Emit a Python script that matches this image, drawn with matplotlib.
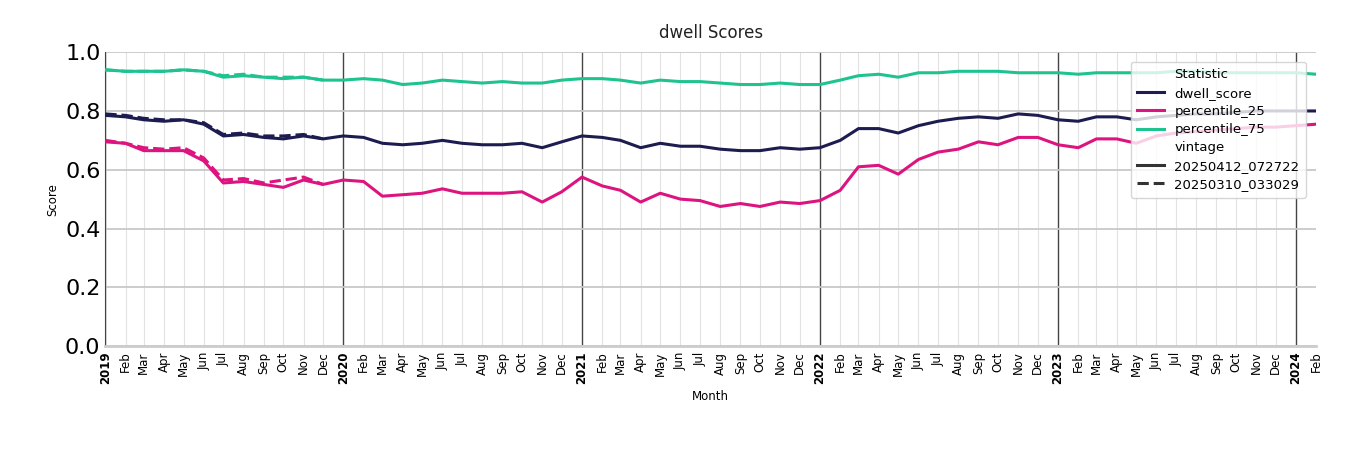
import matplotlib
matplotlib.use("Agg")
import matplotlib.pyplot as plt
from matplotlib.lines import Line2D
import pandas as pd

months = pd.date_range("2019-01-01", "2024-02-01", freq="MS")

dwell_score = [.785, .78, .77, .765, .77, .755, .715, .72, .71, .705, .715, .705,
               .715, .71, .69, .685, .69, .70, .69, .685, .685, .69, .675, .695,
               .715, .71, .70, .675, .69, .68, .68, .67, .665, .665, .675, .67,
               .675, .70, .74, .74, .725, .75, .765, .775, .78, .775, .79, .785,
               .77, .765, .78, .78, .77, .78, .785, .79, .79, .795, .80, .80,
               .80, .80]
percentile_25 = [.695, .69, .665, .665, .665, .63, .555, .56, .55, .54, .565, .55,
                 .565, .56, .51, .515, .52, .535, .52, .52, .52, .525, .49, .525,
                 .575, .545, .53, .49, .52, .50, .495, .475, .485, .475, .49, .485,
                 .495, .53, .61, .615, .585, .635, .66, .67, .695, .685, .71, .71,
                 .685, .675, .705, .705, .69, .715, .725, .73, .735, .74, .745, .745,
                 .75, .755]
percentile_75 = [.94, .935, .935, .935, .94, .935, .915, .92, .915, .91, .915, .905,
                 .905, .91, .905, .89, .895, .905, .90, .895, .90, .895, .895, .905,
                 .91, .91, .905, .895, .905, .90, .90, .895, .89, .89, .895, .89,
                 .89, .905, .92, .925, .915, .93, .93, .935, .935, .935, .93, .93,
                 .93, .925, .93, .93, .93, .93, .935, .935, .93, .93, .93, .93,
                 .93, .925]

# older vintage only covers 2019
old_months = pd.date_range("2019-01-01", "2019-12-01", freq="MS")
old_dwell = [.79, .785, .775, .77, .77, .76, .72, .725, .715, .715, .72, .705]
old_p25 = [.70, .69, .675, .67, .675, .64, .565, .57, .555, .565, .575, .55]
old_p75 = [.94, .935, .935, .935, .94, .935, .92, .925, .915, .915, .915, .905]

colors = {"dwell_score": "#1c1c50", "percentile_25": "#dd1480",
          "percentile_75": "#1fc38f"}

fig = plt.figure(figsize=(13.5, 4.5), dpi=100)
ax = fig.add_axes([0.078, 0.231, 0.897, 0.653])

for name, vals, old in [("dwell_score", dwell_score, old_dwell),
                        ("percentile_25", percentile_25, old_p25),
                        ("percentile_75", percentile_75, old_p75)]:
    ax.plot(months, vals, color=colors[name], lw=2.2, zorder=3)
    ax.plot(old_months, old, color=colors[name], lw=2.2, ls="--", zorder=3)

ax.set_ylim(0, 1)
ax.set_xlim(months[0], months[-1])
ax.set_yticks([0, 0.2, 0.4, 0.6, 0.8, 1.0])
ax.tick_params(axis="y", labelsize=16, length=0)
ax.grid(axis="y", color="#c8c8c8", lw=1.3)

# month grid + year lines
for m in months:
    if m.month == 1:
        ax.axvline(m, color="#444444", lw=1, zorder=1)
    else:
        ax.axvline(m, color="#e2e2e2", lw=0.8, zorder=1)

ax.set_xticks(months)
labels = [str(m.year) if m.month == 1 else m.strftime("%b") for m in months]
ax.set_xticklabels(labels, rotation=90, fontsize=8.5)
for lab, m in zip(ax.get_xticklabels(), months):
    if m.month == 1:
        lab.set_fontweight("bold")
ax.tick_params(axis="x", length=0, pad=4)

for s in ["top", "right"]:
    ax.spines[s].set_visible(False)
ax.spines["left"].set_color("#444444")
ax.spines["bottom"].set_color("#cccccc")
ax.spines["bottom"].set_linewidth(2)

ax.set_title("dwell Scores", fontsize=12, color="#222222", pad=10)
ax.set_xlabel("Month", fontsize=8.5)
ax.set_ylabel("Score", fontsize=8.5)

handles = [Line2D([], [], color="none", label="Statistic"),
           Line2D([], [], color=colors["dwell_score"], lw=2.2, label="dwell_score"),
           Line2D([], [], color=colors["percentile_25"], lw=2.2, label="percentile_25"),
           Line2D([], [], color=colors["percentile_75"], lw=2.2, label="percentile_75"),
           Line2D([], [], color="none", label="vintage"),
           Line2D([], [], color="#333333", lw=2.2, label="20250412_072722"),
           Line2D([], [], color="#333333", lw=2.2, ls="--", label="20250310_033029")]
leg = ax.legend(handles=handles, loc="upper right", fontsize=9.5, framealpha=0.8,
                handlelength=2, bbox_to_anchor=(0.997, 0.99), borderpad=0.5,
                labelspacing=0.4)

fig.savefig("out.png", dpi=100)
